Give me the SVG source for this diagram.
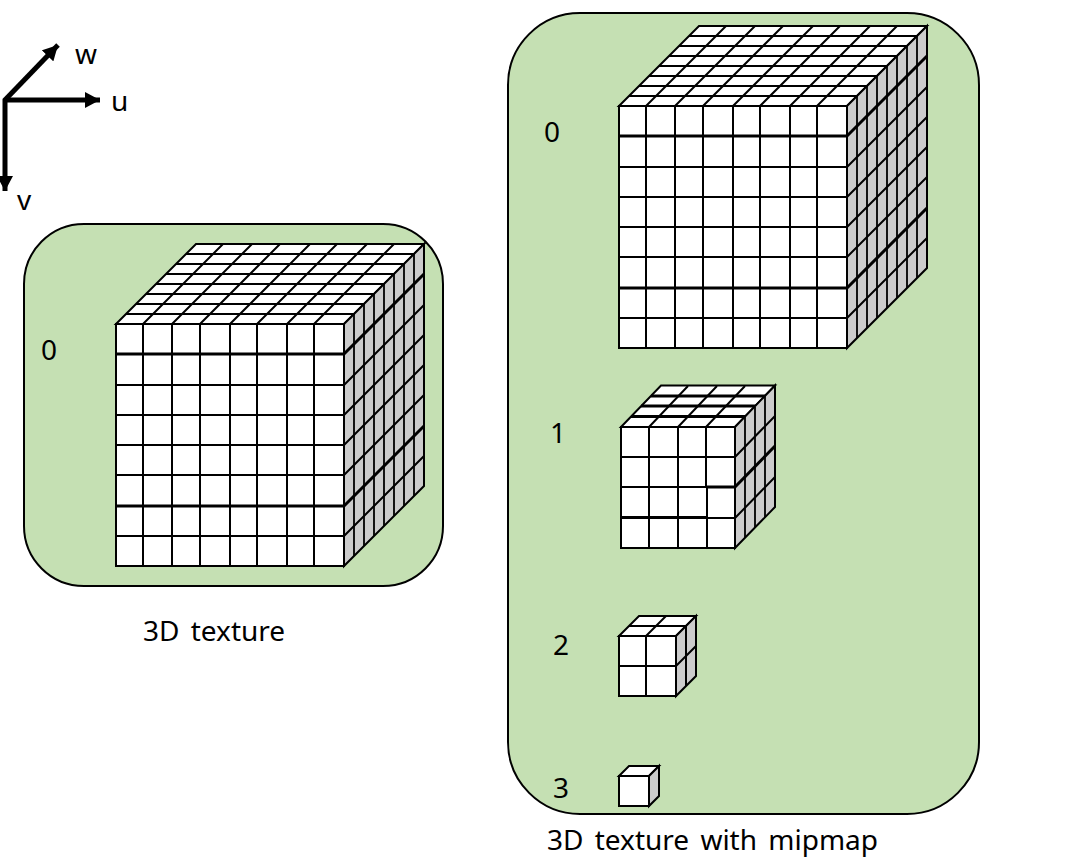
<svg xmlns="http://www.w3.org/2000/svg" width="1070" height="863" viewBox="0 0 1070 863">
<style>
.panel{fill:#c5e0b3;stroke:#000;stroke-width:2}
.f{fill:#fff;stroke:#000;stroke-width:2;stroke-linejoin:miter}
.s{fill:#ccc;stroke:#000;stroke-width:2}
.l{fill:none;stroke:#000;stroke-width:2}
.d{fill:none;stroke:#000;stroke-width:1.8}
.t{fill:none;stroke:#000;stroke-width:3}
.a{fill:none;stroke:#000;stroke-width:5}
text{font-family:"Noto Sans","Open Sans","Liberation Sans",sans-serif;font-size:28px;fill:#000}
.cap{word-spacing:4px}
</style>
<defs>
<marker id="ah" markerUnits="userSpaceOnUse" markerWidth="16" markerHeight="16" refX="15" refY="8" orient="auto"><path d="M0 0L15 8L0 16Z" fill="#000"/></marker>
<g id="big">
<path class="f" d="M619 106H847V348H619Z"/>
<path class="f" d="M619 106L699 26H927L847 106Z"/>
<path class="s" d="M847 106L927 26V268L847 348Z"/>
<path class="l" d="M646 106V348M675 106V348M703 106V348M733 106V348M760 106V348M790 106V348M817 106V348"/>
<path class="l" d="M619 167H847M619 197H847M619 227H847M619 257H847M619 318H847"/>
<path class="l" d="M847 167L927 87M847 197L927 117M847 227L927 147M847 257L927 177M847 318L927 238"/>
<path class="t" d="M619 136H847M619 288H847"/>
<path class="t" d="M847 136L927 56M847 288L927 208"/>
<path class="l" d="M689 36H917M679 46H907M669 56H897M659 66H887M649 76H877M639 86H867M629 96H857"/>
<path class="l" d="M646 106L726 26M675 106L755 26M703 106L783 26M733 106L813 26M760 106L840 26M790 106L870 26M817 106L897 26"/>
<path class="d" d="M857 96V338M867 86V328M877 76V318M887 66V308M897 56V298M907 46V288M917 36V278"/>
</g>
</defs>
<rect id="panel-left" class="panel" x="24" y="224" width="419" height="362" rx="60" ry="60"/>
<rect id="panel-right" class="panel" x="508" y="13" width="471" height="801" rx="72" ry="72"/>
<g id="axes">
<path class="a" d="M5 100H100" marker-end="url(#ah)"/>
<path class="a" d="M5 100V191" marker-end="url(#ah)"/>
<path class="a" d="M4 101L58 45" marker-end="url(#ah)"/>
</g>
<g id="axis-labels">
<text x="75" y="64">w</text>
<text x="111" y="111">u</text>
<text x="17" y="210">v</text>
</g>
<g id="cube-left"><use href="#big" transform="translate(-503 218)"/></g>
<g id="cube-level-0"><use href="#big"/></g>
<g id="cube-level-1">
<path class="f" d="M621 427H735V548H621Z"/>
<path class="f" d="M621 427L661 385.500H775L735 427Z"/>
<path class="s" d="M735 427L775 385.500V507L735 548Z"/>
<path class="l" d="M649 427V548M678 427V548M706 427V487M707 487V548"/>
<path class="l" d="M621 457H735M621 487H706M707 518H735"/>
<path class="l" d="M735 457L775 416M735 518L775 477"/>
<path class="t" d="M706 487H735M621 517.500H707"/>
<path class="t" d="M735 487L775 446"/>
<path class="t" d="M651 396H765M641 406H755M631 416.500H745"/>
<path class="l" d="M649 427L688 386M678 427L717 386M706 427L745 386"/>
<path class="d" d="M745 417V538M755 407V528M765 396V517"/>
</g>
<g id="cube-level-2">
<path class="f" d="M619 636H676V696H619Z"/>
<path class="f" d="M619 636L639 616H696L676 636Z"/>
<path class="s" d="M676 636L696 616V676L676 696Z"/>
<path class="l" d="M646 636V696M619 666H676L696 646M629 626H686M646 636L666 616M686 626V686"/>
</g>
<g id="cube-level-3">
<path class="f" d="M619 776H649V806H619Z"/>
<path class="f" d="M619 776L629 766H659L649 776Z"/>
<path class="s" d="M649 776L659 766V796L649 806Z"/>
</g>
<g id="labels">
<text x="41" y="360">0</text>
<text x="544" y="142">0</text>
<text x="550" y="443">1</text>
<text x="553" y="655">2</text>
<text x="553" y="798">3</text>
<text class="cap" x="143" y="641">3D texture</text>
<text class="cap" x="547" y="850">3D texture with mipmap</text>
</g>
</svg>
